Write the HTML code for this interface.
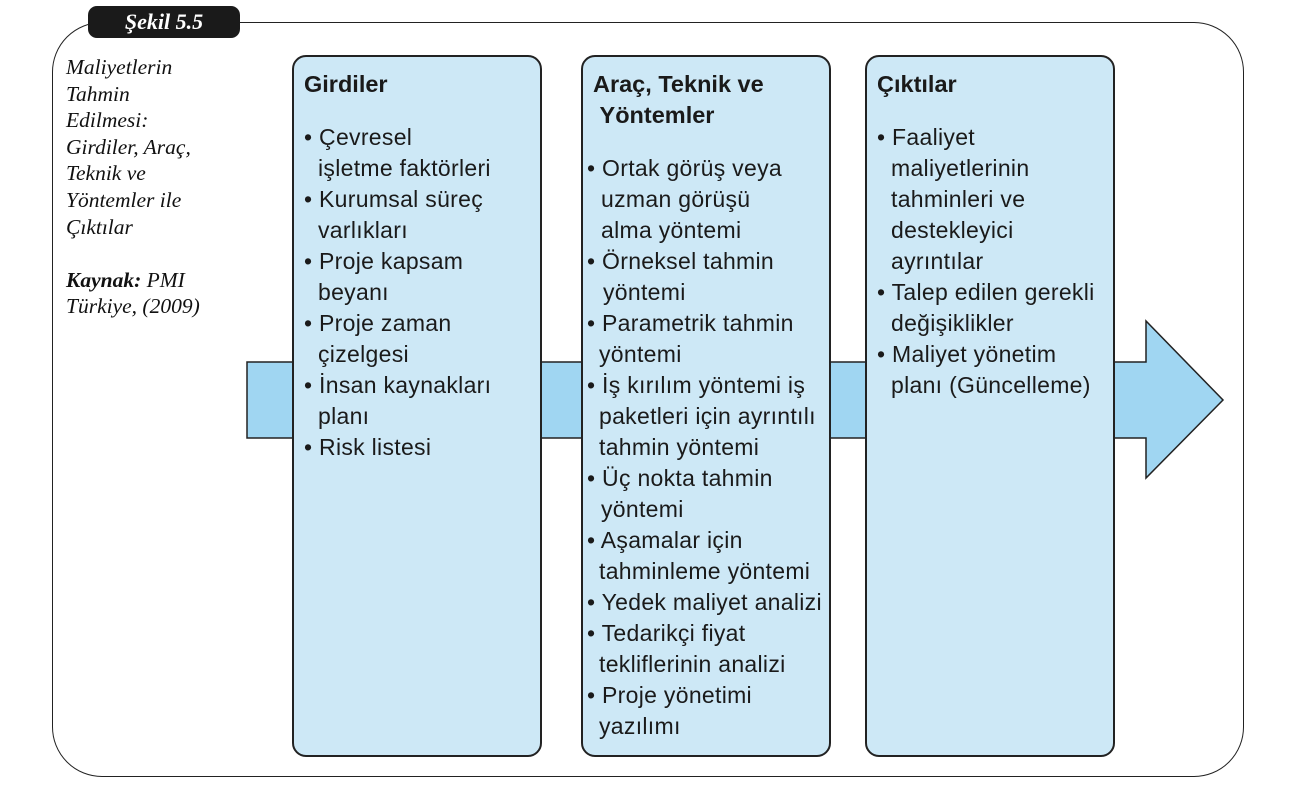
<!DOCTYPE html>
<html><head><meta charset="utf-8"><style>
body{margin:0;width:1300px;height:798px;background:#fff;position:relative;overflow:hidden;font-family:"Liberation Sans",sans-serif;}
.frame{position:absolute;left:52px;top:22px;width:1190px;height:753px;border:1.5px solid #222;border-radius:50px;}
.pill{position:absolute;left:88px;top:6px;width:152px;height:32px;background:#1a1a1a;border-radius:9px;color:#fff;font:italic bold 22px "Liberation Serif",serif;text-align:center;line-height:31px;}
.side{position:absolute;left:66px;top:54px;font:italic 21.5px "Liberation Serif",serif;line-height:26.6px;color:#111;}
.box{position:absolute;top:55px;height:686px;width:244px;background:#cde8f6;border:2.5px solid #222;border-radius:14px;box-sizing:content-box;font-size:23px;line-height:31px;color:#1a1a1a;padding-top:12px;letter-spacing:0.3px;}
.box .t{font-weight:bold;font-size:23.5px;letter-spacing:0;padding-left:10px;margin-bottom:22px;}
.box .l{padding-left:24px;white-space:nowrap;}
.box .b{padding-left:10px;white-space:nowrap;}
</style></head><body>
<div class="frame"></div>
<div class="pill">Şekil 5.5</div>
<div class="side">Maliyetlerin<br>Tahmin<br>Edilmesi:<br>Girdiler, Araç,<br>Teknik ve<br>Yöntemler ile<br>Çıktılar<br><br><b>Kaynak:</b> PMI<br>Türkiye, (2009)</div>
<svg style="position:absolute;left:0;top:0" width="1300" height="798">
<polygon points="247,362 1146,362 1146,321 1223,400 1146,478 1146,438 247,438" fill="#a0d6f2" stroke="#222" stroke-width="1.5"/>
</svg>
<div class="box" style="left:292px;width:246px">
<div class="t">Girdiler</div>
<div class="b">• Çevresel</div><div class="l">işletme faktörleri</div>
<div class="b">• Kurumsal süreç</div><div class="l">varlıkları</div>
<div class="b">• Proje kapsam</div><div class="l">beyanı</div>
<div class="b">• Proje zaman</div><div class="l">çizelgesi</div>
<div class="b">• İnsan kaynakları</div><div class="l">planı</div>
<div class="b">• Risk listesi</div>
</div>
<div class="box" style="left:581px;width:246px">
<div class="t" style="margin-bottom:22px">Araç, Teknik ve<br>&nbsp;Yöntemler</div>
<div class="b" style="padding-left:4px">• Ortak görüş veya</div><div class="l" style="padding-left:18px">uzman görüşü</div><div class="l" style="padding-left:18px">alma yöntemi</div>
<div class="b" style="padding-left:4px">• Örneksel tahmin</div><div class="l" style="padding-left:20px">yöntemi</div>
<div class="b" style="padding-left:4px">• Parametrik tahmin</div><div class="l" style="padding-left:16px">yöntemi</div>
<div class="b" style="padding-left:4px">• İş kırılım yöntemi iş</div><div class="l" style="padding-left:16px">paketleri için ayrıntılı</div><div class="l" style="padding-left:16px">tahmin yöntemi</div>
<div class="b" style="padding-left:4px">• Üç nokta tahmin</div><div class="l" style="padding-left:18px">yöntemi</div>
<div class="b" style="padding-left:4px">• Aşamalar için</div><div class="l" style="padding-left:16px">tahminleme yöntemi</div>
<div class="b" style="padding-left:4px">• Yedek maliyet analizi</div>
<div class="b" style="padding-left:4px">• Tedarikçi fiyat</div><div class="l" style="padding-left:16px">tekliflerinin analizi</div>
<div class="b" style="padding-left:4px">• Proje yönetimi</div><div class="l" style="padding-left:16px">yazılımı</div>
</div>
<div class="box" style="left:865px;width:246px">
<div class="t">Çıktılar</div>
<div class="b">• Faaliyet</div><div class="l">maliyetlerinin</div><div class="l">tahminleri ve</div><div class="l">destekleyici</div><div class="l">ayrıntılar</div>
<div class="b">• Talep edilen gerekli</div><div class="l">değişiklikler</div>
<div class="b">• Maliyet yönetim</div><div class="l">planı (Güncelleme)</div>
</div>
</body></html>
